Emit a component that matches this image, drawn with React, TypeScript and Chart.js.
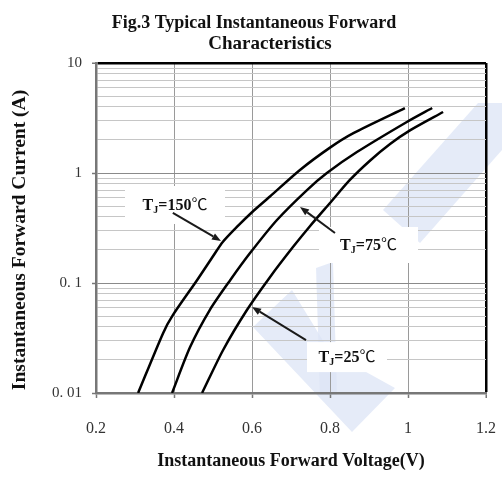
import React, { useEffect, useRef } from 'react';
import { Chart, registerables } from 'chart.js';

Chart.register(...registerables);

// ---- Data ----
const v150 = [0.308, 0.372, 0.397, 0.459, 0.500, 0.525, 0.560, 0.600, 0.646, 0.723, 0.800, 0.860, 0.992];
const i150 = [0.01, 0.035, 0.051, 0.106, 0.175, 0.236, 0.32, 0.44, 0.611, 1.065, 1.70, 2.30, 3.88];

const v75 = [0.395, 0.441, 0.492, 0.544, 0.595, 0.664, 0.741, 0.792, 0.869, 0.997, 1.062];
const i75 = [0.01, 0.026, 0.057, 0.106, 0.187, 0.374, 0.70, 1.0, 1.55, 2.91, 3.9];

const v25 = [0.472, 0.526, 0.587, 0.646, 0.705, 0.749, 0.800, 0.851, 0.903, 0.954, 1.005, 1.090];
const i25 = [0.01, 0.0246, 0.0568, 0.113, 0.212, 0.33, 0.534, 0.864, 1.30, 1.835, 2.44, 3.585];

const xTickValues = [0.2, 0.4, 0.6, 0.8, 1.0, 1.2];
const xTickLabels = ['0.2', '0.4', '0.6', '0.8', '1', '1.2'];
const yDecades = [0.01, 0.1, 1, 10];
const yDecadeLabels = ['0. 01', '0. 1', '1', '10'];
const yMinorMultipliers = [2, 3, 4, 5, 6, 7, 8, 9];

const titleLines = ['Fig.3 Typical Instantaneous Forward', 'Characteristics'];
const xTitle = 'Instantaneous Forward Voltage(V)';
const yTitle = 'Instantaneous Forward Current (A)';

// annotation labels: temperature text, arrow head (data), arrow tail (data), label centre (data)
const annTemps = ['150', '75', '25'];
const annHeadV = [0.5205, 0.7231, 0.600];
const annHeadI = [0.241, 0.491, 0.0605];
const annTailV = [0.397, 0.8128, 0.7385];
const annTailI = [0.433, 0.285, 0.0303];
const annLabelV = [0.4026, 0.8987, 0.8436];
const annLabelI = [0.512, 0.2215, 0.0212];

// ---- helpers ----
const yTickValues: number[] = [];
yDecades.forEach((d, k) => {
  yTickValues.push(d);
  if (k < yDecades.length - 1) yMinorMultipliers.forEach((m) => yTickValues.push(+(d * m).toPrecision(6)));
});

const isDecade = (v: number) => yDecades.some((d) => Math.abs(d - v) < 1e-12);
const decadeLabel = (v: number) => {
  const idx = yDecades.findIndex((d) => Math.abs(d - v) < 1e-12);
  return idx >= 0 ? yDecadeLabels[idx] : '';
};

const boxSizes = [
  [100, 38],
  [99, 36],
  [80, 30],
];

const watermark: number[][][] = [
  [[478, 103], [502, 103], [502, 150], [420, 243], [383, 210]],
  [[253, 327], [292, 290], [330, 352], [395, 388], [352, 432]],
  [[316, 268], [333, 262], [337, 395], [320, 395]],
];

function drawArrow(ctx: CanvasRenderingContext2D, x1: number, y1: number, x2: number, y2: number) {
  const ang = Math.atan2(y2 - y1, x2 - x1);
  const len = 9;
  const hw = 3.5;
  const bx = x2 - len * Math.cos(ang);
  const by = y2 - len * Math.sin(ang);
  ctx.save();
  ctx.strokeStyle = '#1a1a1a';
  ctx.fillStyle = '#1a1a1a';
  ctx.lineWidth = 2;
  ctx.beginPath();
  ctx.moveTo(x1, y1);
  ctx.lineTo(bx, by);
  ctx.stroke();
  ctx.beginPath();
  ctx.moveTo(x2, y2);
  ctx.lineTo(bx + hw * Math.sin(ang), by - hw * Math.cos(ang));
  ctx.lineTo(bx - hw * Math.sin(ang), by + hw * Math.cos(ang));
  ctx.closePath();
  ctx.fill();
  ctx.restore();
}

function drawTempLabel(ctx: CanvasRenderingContext2D, cx: number, cy: number, temp: string) {
  const big = 'bold 16px "Liberation Serif", "Times New Roman", serif';
  const small = 'bold 10px "Liberation Serif", "Times New Roman", serif';
  const deg = '16px "Noto Sans CJK SC", "DejaVu Sans", sans-serif';
  const parts: [string, string, number][] = [
    ['T', big, 0],
    ['J', small, 3],
    ['=' + temp, big, 0],
    ['\u2103', deg, 0],
  ];
  ctx.save();
  let total = 0;
  const widths = parts.map(([t, f]) => {
    ctx.font = f;
    const w = ctx.measureText(t).width;
    total += w;
    return w;
  });
  let x = cx - total / 2;
  ctx.fillStyle = '#111';
  ctx.textBaseline = 'alphabetic';
  ctx.textAlign = 'left';
  parts.forEach(([t, f, dy], k) => {
    ctx.font = f;
    ctx.fillText(t, x, cy + 5 + dy);
    x += widths[k];
  });
  ctx.restore();
}

const decorPlugin = {
  id: 'decor',
  beforeDraw(chart: any) {
    const ctx = chart.ctx as CanvasRenderingContext2D;
    ctx.save();
    ctx.fillStyle = '#ffffff';
    ctx.fillRect(0, 0, chart.width, chart.height);
    ctx.fillStyle = 'rgba(220, 228, 245, 0.75)';
    watermark.forEach((poly) => {
      ctx.beginPath();
      poly.forEach(([x, y], k) => (k === 0 ? ctx.moveTo(x, y) : ctx.lineTo(x, y)));
      ctx.closePath();
      ctx.fill();
    });
    ctx.restore();
  },
  beforeDatasetsDraw(chart: any) {
    const ctx = chart.ctx as CanvasRenderingContext2D;
    const xs = chart.scales.x;
    const ys = chart.scales.y;
    ctx.save();
    ctx.fillStyle = '#ffffff';
    annTemps.forEach((_, k) => {
      const cx = xs.getPixelForValue(annLabelV[k]);
      const cy = ys.getPixelForValue(annLabelI[k]);
      const [w, h] = boxSizes[k];
      ctx.fillRect(cx - w / 2, cy - h / 2, w, h);
    });
    ctx.restore();
  },
  afterDatasetsDraw(chart: any) {
    const ctx = chart.ctx as CanvasRenderingContext2D;
    const xs = chart.scales.x;
    const ys = chart.scales.y;
    annTemps.forEach((t, k) => {
      drawArrow(
        ctx,
        xs.getPixelForValue(annTailV[k]),
        ys.getPixelForValue(annTailI[k]),
        xs.getPixelForValue(annHeadV[k]),
        ys.getPixelForValue(annHeadI[k])
      );
      drawTempLabel(ctx, xs.getPixelForValue(annLabelV[k]), ys.getPixelForValue(annLabelI[k]), t);
    });

    ctx.save();
    ctx.fillStyle = '#111';
    ctx.textAlign = 'center';
    ctx.textBaseline = 'alphabetic';
    ctx.font = 'bold 18px "Liberation Serif", "Times New Roman", serif';
    ctx.fillText(titleLines[0], 254, 28);
    ctx.font = 'bold 19px "Liberation Serif", "Times New Roman", serif';
    ctx.fillText(titleLines[1], 270, 49);
    ctx.font = 'bold 18px "Liberation Serif", "Times New Roman", serif';
    ctx.textBaseline = 'middle';
    ctx.fillText(xTitle, (chart.chartArea.left + chart.chartArea.right) / 2, 461);
    ctx.translate(20, 240);
    ctx.rotate(-Math.PI / 2);
    ctx.font = 'bold 19.5px "Liberation Serif", "Times New Roman", serif';
    ctx.fillText(yTitle, 0, 0);
    ctx.restore();
  },
};

export default function App() {
  const ref = useRef<HTMLCanvasElement | null>(null);

  useEffect(() => {
    const canvas = ref.current;
    if (!canvas) return;
    const mk = (vs: number[], is: number[]) => vs.map((v, k) => ({ x: v, y: is[k] }));
    const lineStyle = {
      showLine: true,
      borderColor: '#000000',
      backgroundColor: '#000000',
      borderWidth: 2.5,
      pointRadius: 0,
      pointHoverRadius: 0,
      tension: 0.25,
      fill: false,
    };
    const chart = new Chart(canvas, {
      type: 'scatter',
      data: {
        datasets: [
          { label: 'TJ=150℃', data: mk(v150, i150), ...lineStyle },
          { label: 'TJ=75℃', data: mk(v75, i75), ...lineStyle },
          { label: 'TJ=25℃', data: mk(v25, i25), ...lineStyle },
        ],
      },
      options: {
        responsive: false,
        animation: false,
        devicePixelRatio: 1,
        layout: { padding: { top: 63, right: 0, left: 0, bottom: 0 } },
        plugins: {
          legend: { display: false },
          tooltip: { enabled: false },
          title: { display: false },
        },
        scales: {
          x: {
            type: 'linear',
            min: 0.2,
            max: 1.2,
            afterBuildTicks: (s: any) => {
              s.ticks = xTickValues.map((v) => ({ value: v }));
            },
            afterFit: (s: any) => {
              s.height = 91;
              s.paddingRight = 16;
            },
            ticks: {
              autoSkip: false,
              maxRotation: 0,
              padding: 21,
              color: '#333',
              font: { family: '"Liberation Serif", "Times New Roman", serif', size: 16 },
              callback: (_v: any, i: number) => xTickLabels[i],
            },
            grid: {
              color: (c: any) => (Math.abs(c.tick?.value - 1.2) < 1e-9 ? '#000' : Math.abs(c.tick?.value - 0.2) < 1e-9 ? 'rgba(0,0,0,0)' : '#9a9a9a'),
              lineWidth: (c: any) => (Math.abs(c.tick?.value - 1.2) < 1e-9 ? 2.5 : 1),
              tickColor: '#777',
              tickWidth: 1.5,
              tickLength: 5,
              drawTicks: true,
            },
            border: { color: '#777', width: 2.5 },
          },
          y: {
            type: 'logarithmic',
            min: 0.01,
            max: 10,
            afterBuildTicks: (s: any) => {
              s.ticks = yTickValues.map((v) => ({ value: v }));
            },
            afterFit: (s: any) => {
              s.width = 96;
            },
            ticks: {
              autoSkip: false,
              padding: 10,
              color: '#333',
              font: { family: '"Liberation Serif", "Times New Roman", serif', size: 15 },
              callback: (v: any) => decadeLabel(Number(v)),
            },
            grid: {
              color: (c: any) => {
                const v = c.tick?.value;
                if (v === undefined) return '#c4c4c4';
                if (Math.abs(v - 10) < 1e-9) return '#000';
                if (Math.abs(v - 0.01) < 1e-12) return 'rgba(0,0,0,0)';
                return isDecade(v) ? '#8a8a8a' : '#c6c6c6';
              },
              lineWidth: (c: any) => (Math.abs((c.tick?.value ?? 0) - 10) < 1e-9 ? 2.5 : 1),
              tickColor: (c: any) => (isDecade(c.tick?.value) ? '#777' : 'rgba(0,0,0,0)'),
              tickWidth: 1.5,
              tickLength: 4,
              drawTicks: true,
            },
            border: { color: '#777', width: 2.5 },
          },
        },
      },
      plugins: [decorPlugin],
    } as any);
    return () => chart.destroy();
  }, []);

  return (
    <div style={{ position: 'absolute', left: 0, top: 0, width: 502, height: 484, background: '#fff' }}>
      <canvas ref={ref} width={502} height={484} style={{ display: 'block', width: 502, height: 484 }} />
    </div>
  );
}
